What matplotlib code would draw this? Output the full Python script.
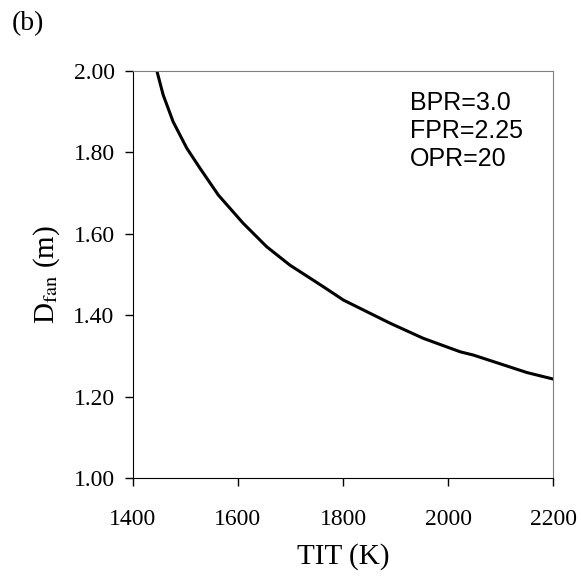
import numpy as np
import matplotlib.pyplot as plt

plt.rcParams['mathtext.fontset'] = 'stix'

# Fan diameter vs turbine inlet temperature
tit = [1446, 1458, 1477, 1503, 1528, 1563, 1610, 1655, 1699, 1741, 1766,
       1801, 1890, 1953, 2023, 2048, 2086, 2150, 2200]
d_fan = [2.00, 1.941, 1.875, 1.810, 1.761, 1.695, 1.626, 1.568, 1.523, 1.488, 1.467,
         1.437, 1.380, 1.343, 1.310, 1.302, 1.286, 1.259, 1.243]

x_ticks = [1400, 1600, 1800, 2000, 2200]
y_ticks = [1.00, 1.20, 1.40, 1.60, 1.80, 2.00]
notes = ['BPR=3.0', 'FPR=2.25', 'OPR=20']

fig = plt.figure(figsize=(5.81, 5.77), dpi=100)
ax = fig.add_axes([0.2284, 0.1716, 0.9523 - 0.2284, 0.877 - 0.1716])

ax.plot(tit, d_fan, color='black', linewidth=2.2)

ax.set_xlim(1400, 2200)
ax.set_ylim(1.0, 2.0)
ax.set_xticks(x_ticks)
ax.set_yticks(y_ticks)
ax.set_yticklabels(['%.2f' % v for v in y_ticks])

serif = 'Liberation Serif'
for lab in ax.get_xticklabels() + ax.get_yticklabels():
    lab.set_family(serif)
    lab.set_fontsize(17)

ax.tick_params(axis='y', direction='out', length=6, width=1, pad=7)
ax.tick_params(axis='x', direction='out', length=6, width=1, pad=16)

ax.spines['top'].set_color('#808080')
ax.spines['right'].set_color('#808080')
ax.spines['left'].set_color('black')
ax.spines['bottom'].set_color('black')

ax.set_xlabel('TIT (K)', family=serif, fontsize=21, labelpad=10)
ax.set_ylabel(r'D$_{\mathrm{fan}}$ (m)', family=serif, fontsize=21, labelpad=8)

ax.text(0.66, 0.95, '\n'.join(notes), transform=ax.transAxes,
        family='Liberation Sans', fontsize=18, va='top', ha='left',
        linespacing=1.2)

fig.text(0.02, 0.98, '(b)', family=serif, fontsize=20, va='top', ha='left')

fig.savefig('out.png', dpi=100)
